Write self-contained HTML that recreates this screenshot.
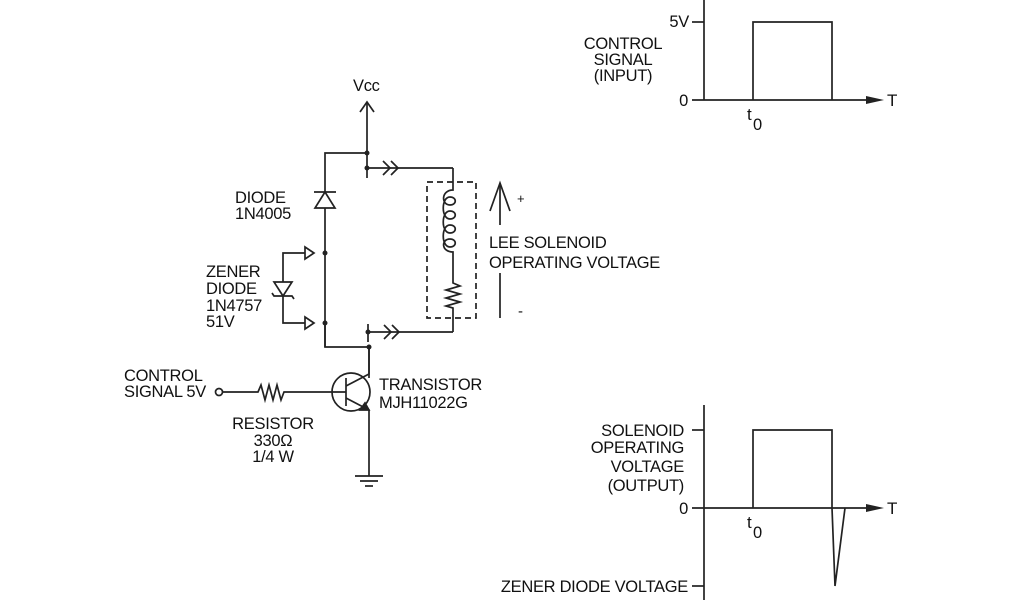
<!DOCTYPE html>
<html><head><meta charset="utf-8"><style>
html,body{margin:0;padding:0;background:#fff;}
svg{display:block;}
text{font-family:"Liberation Sans",Arial,sans-serif;font-size:16.5px;fill:#111;}
</style></head><body>
<svg width="1024" height="600" viewBox="0 0 1024 600" xmlns="http://www.w3.org/2000/svg">
<g stroke="#222" stroke-width="1.7" fill="none">
<line x1="367" y1="102" x2="367" y2="178"/>
<polyline points="360,112 367,102 374,112"/>
<polyline points="325,347 325,153 367,153"/>
<polygon points="325,192 315,208 335,208" fill="#fff"/>
<line x1="314" y1="192" x2="336" y2="192"/>
<line x1="367" y1="168" x2="453" y2="168"/>
<polyline points="383,161 390,168 383,175"/>
<polyline points="391,161 398,168 391,175"/>
<line x1="453" y1="168" x2="453" y2="185"/>
<rect x="427" y="182" width="49" height="136" stroke-dasharray="6,4"/>
<path d="M453,185 L453,190 C441,190 441,205 450,205 C457,205 457,197 450,197 C441,197 441,219 450,219 C457,219 457,211 450,211 C441,211 441,233 450,233 C457,233 457,225 450,225 C441,225 441,247 450,247 C457,247 457,239 450,239 C441,239 441,252 453,252 L453,283 L460,286 L446,290 L460,294 L446,298 L460,302 L446,306 L453,308 L453,332"/>
<line x1="368" y1="332" x2="453" y2="332"/>
<polyline points="384,325 391,332 384,339"/>
<polyline points="392,325 399,332 392,339"/>
<line x1="368" y1="324" x2="368" y2="342"/>
<polyline points="325,323 325,347 369,347 369,378"/>
<polyline points="305,253 283,253 283,323 305,323"/>
<polygon points="305,247 314,253 305,259" fill="#fff"/>
<polygon points="305,317 314,323 305,329" fill="#fff"/>
<polygon points="274,282 292,282 283,296" fill="#fff"/>
<polyline points="272,293 274,296 292,296 294,299"/>
<line x1="500" y1="183" x2="500" y2="225"/>
<line x1="500" y1="273" x2="500" y2="318"/>
<polyline points="490,211 500,183 510,211"/>
<circle cx="219" cy="392" r="3.5" fill="#fff"/>
<polyline points="222,392 258,392 261,385 265,400 269,385 273,400 277,385 281,400 284,392 346,392"/>
<circle cx="351" cy="392" r="19"/>
<line x1="346" y1="378" x2="346" y2="406"/>
<polyline points="346,386 369,374 369,347"/>
<polyline points="346,398 369,410 369,476"/>
<polygon points="369,410 360,410 365,403" fill="#222"/>
<line x1="355" y1="476" x2="383" y2="476"/>
<line x1="360" y1="481" x2="378" y2="481"/>
<line x1="365" y1="486" x2="373" y2="486"/>
<line x1="704" y1="0" x2="704" y2="100"/>
<line x1="692" y1="22" x2="704" y2="22"/>
<line x1="692" y1="100" x2="872" y2="100"/>
<polyline points="753,100 753,22 832,22 832,100"/>
<line x1="704" y1="405" x2="704" y2="600"/>
<line x1="692" y1="430" x2="704" y2="430"/>
<line x1="692" y1="586" x2="704" y2="586"/>
<line x1="692" y1="508" x2="872" y2="508"/>
<polyline points="753,508 753,430 832,430 832,508 835,586 845,508"/>
</g>
<g fill="#222">
<circle cx="367" cy="153" r="2.5"/><circle cx="367" cy="168" r="2.5"/>
<circle cx="325" cy="253" r="2.5"/><circle cx="325" cy="323" r="2.5"/>
<circle cx="368" cy="332" r="2.5"/><circle cx="369" cy="347" r="2.5"/>
<polygon points="866,96 884,100 866,104"/>
<polygon points="866,504 884,508 866,512"/>
</g>
<g style="letter-spacing:-0.3px">
<text x="353" y="91">Vcc</text>
<text x="235" y="203">DIODE</text><text x="235" y="219">1N4005</text>
<text x="206" y="277">ZENER</text><text x="206" y="294">DIODE</text><text x="206" y="311">1N4757</text><text x="206" y="327">51V</text>
<text x="489" y="248">LEE SOLENOID</text><text x="489" y="268">OPERATING VOLTAGE</text>
<text x="517" y="203" style="font-size:13px">+</text><text x="518" y="316" style="font-size:15px">-</text>
<text x="124" y="381">CONTROL</text><text x="124" y="397">SIGNAL 5V</text>
<text x="273" y="429" text-anchor="middle">RESISTOR</text><text x="273" y="446" text-anchor="middle">330Ω</text><text x="273" y="462" text-anchor="middle">1/4 W</text>
<text x="379" y="390">TRANSISTOR</text><text x="379" y="408">MJH11022G</text>
<text x="689" y="27" text-anchor="end">5V</text>
<text x="623" y="49" text-anchor="middle">CONTROL</text><text x="623" y="65" text-anchor="middle">SIGNAL</text><text x="623" y="81" text-anchor="middle">(INPUT)</text>
<text x="688" y="106" text-anchor="end">0</text>
<text x="887" y="106" style="font-size:17px">T</text>
<text x="747" y="120" style="font-size:17px">t</text><text x="753" y="130">0</text>
<text x="684" y="436" text-anchor="end">SOLENOID</text><text x="684" y="453" text-anchor="end">OPERATING</text><text x="684" y="472" text-anchor="end">VOLTAGE</text><text x="684" y="491" text-anchor="end">(OUTPUT)</text>
<text x="688" y="514" text-anchor="end">0</text>
<text x="887" y="514" style="font-size:17px">T</text>
<text x="747" y="528" style="font-size:17px">t</text><text x="753" y="538">0</text>
<text x="688" y="592" text-anchor="end">ZENER DIODE VOLTAGE</text>
</g>
</svg>
</body></html>
